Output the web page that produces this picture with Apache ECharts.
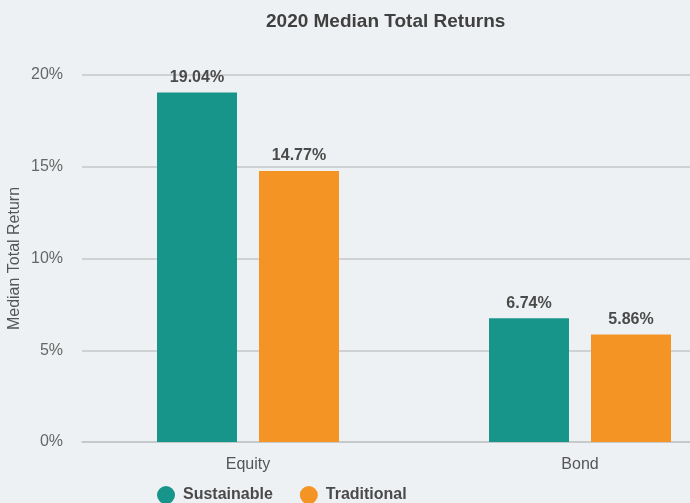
<!DOCTYPE html>
<html style="height: 100%">
<head>
    <meta charset="utf-8">
</head>
<body style="height: 100%; margin: 0; background-color: #eef1f3">
<div id="container" style="height: 503px; width: 690px"></div>
<script type="text/javascript" src="https://cdn.jsdelivr.net/npm/echarts@6/dist/echarts.min.js"></script>
<script type="text/javascript">
    var categories = ['Equity', 'Bond'];
    var sustainable = [19.04, 6.74];
    var traditional = [14.77, 5.86];
    var yTicks = [0, 5, 10, 15, 20];

    var font = '"Liberation Sans", Arial, sans-serif';
    var dom = document.getElementById('container');
    var myChart = echarts.init(dom);

    function barLabel() {
        return {
            show: true,
            position: 'top',
            distance: 7,
            fontFamily: font,
            fontSize: 16,
            fontWeight: 'bold',
            color: '#4a4a4a',
            formatter: function (p) {
                return p.value.toFixed(2) + '%';
            }
        };
    }

    var option = {
        backgroundColor: '#eef1f3',
        animation: false,
        title: {
            text: '2020 Median Total Returns',
            left: 261,
            top: 7,
            textStyle: {
                fontFamily: font,
                fontSize: 19,
                fontWeight: 'bold',
                color: '#404040'
            }
        },
        legend: {
            data: ['Sustainable', 'Traditional'],
            left: 152,
            top: 481,
            icon: 'circle',
            itemWidth: 18,
            itemHeight: 18,
            itemGap: 27,
            textStyle: {
                fontFamily: font,
                fontSize: 16,
                fontWeight: 'bold',
                color: '#4a4a4a',
                padding: [0, 0, 0, 3]
            }
        },
        grid: {
            left: 82,
            top: 75,
            width: 664,
            height: 367,
            outerBoundsMode: 'none',
            containLabel: false
        },
        xAxis: {
            type: 'category',
            data: categories,
            axisTick: { show: false },
            axisLine: { lineStyle: { color: '#c4c6c8', width: 1.5 } },
            axisLabel: {
                margin: 15,
                fontFamily: font,
                fontSize: 16,
                color: '#555'
            }
        },
        yAxis: {
            type: 'value',
            min: yTicks[0],
            max: yTicks[yTicks.length - 1],
            interval: 5,
            name: 'Median Total Return',
            nameLocation: 'middle',
            nameGap: 59,
            nameMoveOverlap: false,
            nameTextStyle: {
                fontFamily: font,
                fontSize: 16,
                color: '#555'
            },
            axisLine: { show: false },
            axisTick: { show: false },
            axisLabel: {
                margin: 19,
                fontFamily: font,
                fontSize: 16,
                color: '#666',
                formatter: '{value}%'
            },
            splitLine: { lineStyle: { color: '#c4c6c8', width: 1.5 } }
        },
        series: [
            {
                name: 'Sustainable',
                type: 'bar',
                data: sustainable,
                barWidth: 80,
                barGap: '27.5%',
                itemStyle: { color: '#18958a' },
                label: barLabel()
            },
            {
                name: 'Traditional',
                type: 'bar',
                data: traditional,
                barWidth: 80,
                itemStyle: { color: '#f39424' },
                label: barLabel()
            }
        ]
    };
    myChart.setOption(option);
</script>
</body>
</html>
